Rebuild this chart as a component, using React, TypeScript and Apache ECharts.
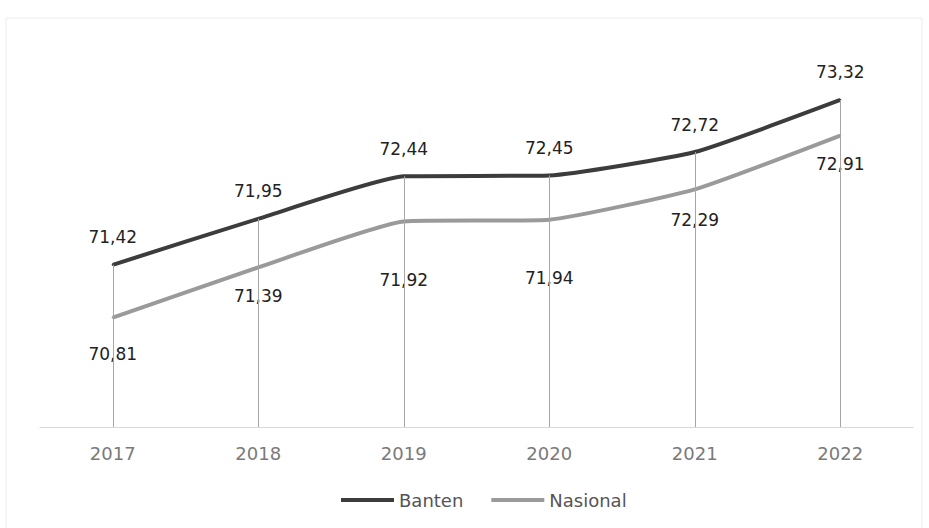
import React, { useEffect, useRef } from "react";
import * as echarts from "echarts";

const years = ["2017", "2018", "2019", "2020", "2021", "2022"];
const banten = [71.42, 71.95, 72.44, 72.45, 72.72, 73.32];
const nasional = [70.81, 71.39, 71.92, 71.94, 72.29, 72.91];
const nasionalLabelDistance = [27, 19, 49, 49, 21, 19];

const Y_MIN = 69.55;
const Y_MAX = 74;
const FONT = "'DejaVu Sans', 'Noto Sans', sans-serif";
const fmt = (v: number) => v.toFixed(2).replace(".", ",");

export default function App() {
  const ref = useRef<HTMLDivElement>(null);
  useEffect(() => {
    if (!ref.current) return;
    const chart = echarts.init(ref.current, null, { renderer: "svg" });
    chart.setOption({
      animation: false,
      backgroundColor: "#ffffff",
      graphic: [
        {
          type: "rect",
          shape: { x: 6, y: 18, width: 916, height: 520 },
          style: { fill: "none", stroke: "#ededed", lineWidth: 1 },
          silent: true,
        },
      ],
      grid: { left: 40, right: 16, top: 41, bottom: 101, containLabel: false },
      xAxis: {
        type: "category",
        data: years,
        boundaryGap: true,
        axisLine: { show: true, lineStyle: { color: "#d9d9d9", width: 1 } },
        axisTick: { show: false },
        axisLabel: { color: "#7a7a7a", fontSize: 18, fontFamily: FONT, margin: 17 },
        splitLine: { show: false },
      },
      yAxis: {
        type: "value",
        min: Y_MIN,
        max: Y_MAX,
        show: false,
        splitLine: { show: false },
      },
      legend: {
        bottom: 14,
        left: 336,
        icon: "rect",
        itemWidth: 53,
        itemHeight: 4,
        itemGap: 28,
        itemTextGap: 4,
        textStyle: { color: "#555555", fontSize: 18, fontFamily: FONT },
        data: ["Banten", "Nasional"],
      },
      series: [
        {
          name: "drop",
          type: "line",
          data: banten,
          showSymbol: false,
          silent: true,
          z: 1,
          lineStyle: { opacity: 0 },
          markLine: {
            silent: true,
            symbol: "none",
            label: { show: false },
            lineStyle: { color: "#a6a6a6", width: 1, type: "solid" },
            data: banten.map((v, i) => [
              { coord: [i, v] },
              { coord: [i, Y_MIN] },
            ]),
          },
        },
        {
          name: "Banten",
          type: "line",
          data: banten,
          smooth: 0.15,
          showSymbol: true,
          symbol: "circle",
          symbolSize: 2,
          z: 3,
          color: "#3c3c3c",
          itemStyle: { color: "#3c3c3c" },
          lineStyle: { color: "#3c3c3c", width: 4 },
          label: {
            show: true,
            position: "top",
            distance: 18,
            color: "#222222",
            fontSize: 17,
            fontFamily: FONT,
            formatter: (p: any) => fmt(p.value),
          },
        },
        {
          name: "Nasional",
          type: "line",
          smooth: 0.15,
          showSymbol: true,
          symbol: "circle",
          symbolSize: 2,
          z: 2,
          color: "#9a9a9a",
          itemStyle: { color: "#9a9a9a" },
          lineStyle: { color: "#9a9a9a", width: 4 },
          data: nasional.map((v, i) => ({
            value: v,
            label: { distance: nasionalLabelDistance[i] },
          })),
          label: {
            show: true,
            position: "bottom",
            color: "#222222",
            fontSize: 17,
            fontFamily: FONT,
            formatter: (p: any) => fmt(typeof p.value === "number" ? p.value : p.data.value),
          },
        },
      ],
    });
    return () => chart.dispose();
  }, []);
  return <div ref={ref} style={{ width: 929, height: 528, position: "absolute", left: 0, top: 0 }} />;
}
